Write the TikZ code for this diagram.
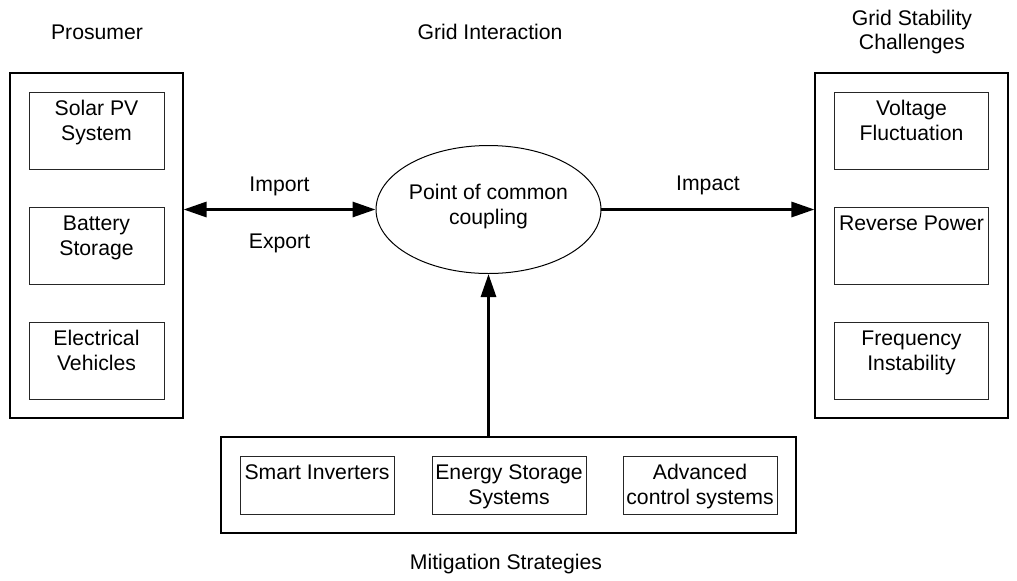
\documentclass[tikz,border=0pt]{standalone}
\usepackage{fontspec}
\setmainfont{Liberation Sans}
\usetikzlibrary{arrows.meta,shapes.geometric}
% fixed-size box whose text starts at the top
\newcommand\toptext[3]{\parbox[c][#2][t]{#1}{\centering\rule{0pt}{11.8pt}#3}}
\begin{document}
\begin{tikzpicture}[x=0.5pt,y=-0.5pt,
  every node/.style={font=\fontsize{10.6pt}{12.25pt}\selectfont},
  frame/.style={draw, line width=0.55pt, inner sep=0pt, rectangle},
  item/.style={draw=black!85, line width=0.45pt, inner sep=0pt, rectangle},
  title/.style={align=center, inner sep=0pt},
  flow/.style={line width=1.5pt, -{Triangle[length=11.5pt,width=7.5pt]}},
  bothflow/.style={line width=1.5pt, {Triangle[length=11.5pt,width=7.5pt]}-{Triangle[length=11.5pt,width=7.5pt]}}
]
\useasboundingbox (0,0) rectangle (1017,580);

% section titles
\node[title] (tprosumer) at (97,32) {Prosumer};
\node[title] (tgrid) at (490,32) {Grid Interaction};
\node[title] (tchall) at (912,32) {Grid Stability\\Challenges};
\node[title] (tmitig) at (506,564) {Mitigation Strategies};

% prosumer group
\node[frame, minimum width=86.5pt, minimum height=172.5pt] (prosumer) at (96.5,245.5) {};
\node[item] (solar) at (96.5,130.5) {\toptext{67.5pt}{38.5pt}{Solar PV\\System}};
\node[item] (battery) at (96.5,245.5) {\toptext{67.5pt}{38.5pt}{Battery\\Storage}};
\node[item] (ev) at (96.5,360.5) {\toptext{67.5pt}{38.5pt}{Electrical\\Vehicles}};

% grid stability group
\node[frame, minimum width=96.5pt, minimum height=172.5pt] (stability) at (911.5,245.5) {};
\node[item] (voltage) at (911.5,130.5) {\toptext{77pt}{38.5pt}{Voltage\\Fluctuation}};
\node[item] (reverse) at (911.5,245.5) {\toptext{77pt}{38.5pt}{Reverse Power}};
\node[item] (freq) at (911.5,360.5) {\toptext{77pt}{38.5pt}{Frequency\\Instability}};

% mitigation group
\node[frame, minimum width=287.5pt, minimum height=48pt] (mitig) at (508.5,485) {};
\node[item] (inverters) at (317,485) {\toptext{77pt}{29pt}{Smart Inverters}};
\node[item] (storage) at (509,485) {\toptext{77pt}{29pt}{Energy Storage\\Systems}};
\node[item] (control) at (700,485) {\toptext{77pt}{29pt}{Advanced\\control systems}};

% point of common coupling
\node[draw, ellipse, line width=0.5pt, inner sep=0pt, align=center,
      minimum width=95.5pt, minimum height=64pt] (pcc) at (488.5,209.5)
      {Point of common\\coupling\rule[-5.2pt]{0pt}{0pt}};

% power flows
\draw[bothflow] (prosumer.east |- pcc.west) -- (pcc.west)
  node[midway, yshift=11.5pt] (limport) {Import}
  node[midway, yshift=-17pt] (lexport) {Export};
\draw[flow] (pcc.east) -- (stability.west |- pcc.east)
  node[midway, yshift=12pt] (limpact) {Impact};
\draw[flow] (mitig.north -| pcc.south) -- (pcc.south);
\end{tikzpicture}
\end{document}
